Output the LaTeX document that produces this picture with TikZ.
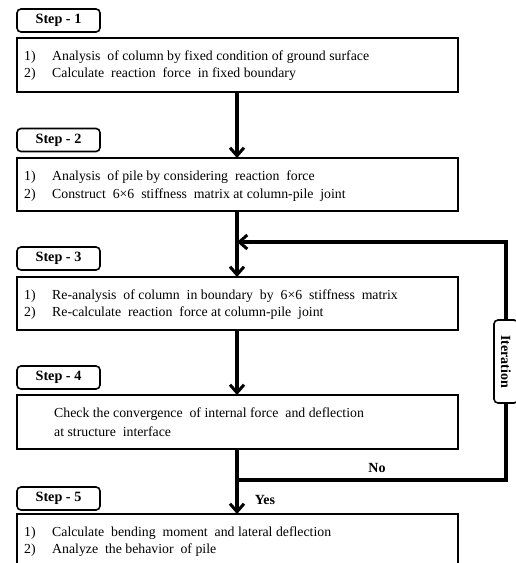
\documentclass[tikz,border=0pt]{standalone}
\usepackage{fontspec}
\setmainfont{Liberation Serif}
\usetikzlibrary{arrows.meta}
\begin{document}
\begin{tikzpicture}[x=1pt,y=-1pt,
  box/.style={draw,line width=2.2pt},
  tagbox/.style={draw,line width=1.6pt,rounded corners=4pt,minimum width=83pt,minimum height=23pt,inner sep=0pt,font=\bfseries\fontsize{14.2}{16}\selectfont},
  txt/.style={anchor=west,inner sep=0pt,font=\fontsize{13.8}{16}\selectfont},
  num/.style={anchor=west,inner sep=0pt,font=\fontsize{13.8}{16}\selectfont},
  flow/.style={line width=3.2pt,-{Straight Barb[length=8pt,width=14pt,line width=3pt]}},
  line/.style={line width=3.2pt},
  lab/.style={font=\bfseries\fontsize{14}{16}\selectfont,inner sep=0pt}]
\useasboundingbox (0,0) rectangle (515,563);
% tags
\node[tagbox] (t1) at (58.5,20.5) {Step - 1};
\node[tagbox] (t2) at (58.5,140) {Step - 2};
\node[tagbox] (t3) at (58.5,258.5) {Step - 3};
\node[tagbox] (t4) at (58.5,377.5) {Step - 4};
\node[tagbox] (t5) at (58.5,498.5) {Step - 5};
% boxes
\draw[box] (17,38) rectangle (458,92);
\draw[box] (17,158) rectangle (458,211);
\draw[box] (17,277) rectangle (458,330);
\draw[box] (17,395) rectangle (458,449);
\draw[box] (17,514) rectangle (458,570);
\coordinate (b1b) at (237,92);
\coordinate (b2t) at (237,158);
\coordinate (b2b) at (237,211);
\coordinate (b3t) at (237,277);
\coordinate (b3b) at (237,330);
\coordinate (b4t) at (237,395);
\coordinate (b4b) at (237,449);
\coordinate (b5t) at (237,514);
\coordinate (j1) at (237,242);
\coordinate (j2) at (237,480);
\coordinate (c1) at (506,480);
\coordinate (c2) at (506,242);
% texts
\node[num] (n11) at (24,57) {1)};
\node[txt] (x11) at (52,57) {Analysis\ \ of column\ by\ fixed\ condition\ of ground\ surface};
\node[num] (n12) at (24,74) {2)};
\node[txt] (x12) at (52,74) {Calculate\ \ reaction\ \ force\ \ in\ fixed\ boundary};
\node[num] (n21) at (24,177) {1)};
\node[txt] (x21) at (52,177) {Analysis\ \ of pile by\ considering\ \ reaction\ \ force};
\node[num] (n22) at (24,195) {2)};
\node[txt] (x22) at (52,195) {Construct\ \ 6×6\ \ stiffness\ \ matrix\ at column-pile\ \ joint};
\node[num] (n31) at (24,296) {1)};
\node[txt] (x31) at (52,296) {Re-analysis\ \ of column\ \ in\ boundary\ \ by\ \ 6×6\ \ stiffness\ \ matrix};
\node[num] (n32) at (24,313) {2)};
\node[txt] (x32) at (52,313) {Re-calculate\ \ reaction\ \ force\ at column-pile\ \ joint};
\node[txt] (x41) at (54,414) {Check\ the\ convergence\ \ of\ internal\ force\ \ and\ deflection};
\node[txt] (x42) at (54,432) {at\ structure\ \ interface};
\node[num] (n51) at (24,533) {1)};
\node[txt] (x51) at (52,533) {Calculate\ \ bending\ \ moment\ \ and\ lateral\ deflection};
\node[num] (n52) at (24,550) {2)};
\node[txt] (x52) at (52,550) {Analyze\ \ the\ behavior\ \ of pile};
% connectors
\draw[flow] (b1b) -- (b2t);
\draw[flow] (b2b) -- (b3t);
\draw[flow] (b3b) -- (b4t);
\draw[flow] (b4b) -- (b5t);
\draw[line,line join=miter] (j2) -- (c1) -- (c2) -- ([xshift=-1.6pt]c2);
\draw[flow] (c2) -- (j1);
\node[draw,fill=white,line width=1.6pt,rounded corners=4pt,minimum width=83pt,minimum height=24pt,inner sep=0pt,rotate=-90,font=\bfseries\fontsize{14}{16}\selectfont] (it) at (506,361.5) {Iteration};
\node[lab] (no) at (377,468) {No};
\node[lab] (yes) at (265,500) {Yes};
\end{tikzpicture}
\end{document}
